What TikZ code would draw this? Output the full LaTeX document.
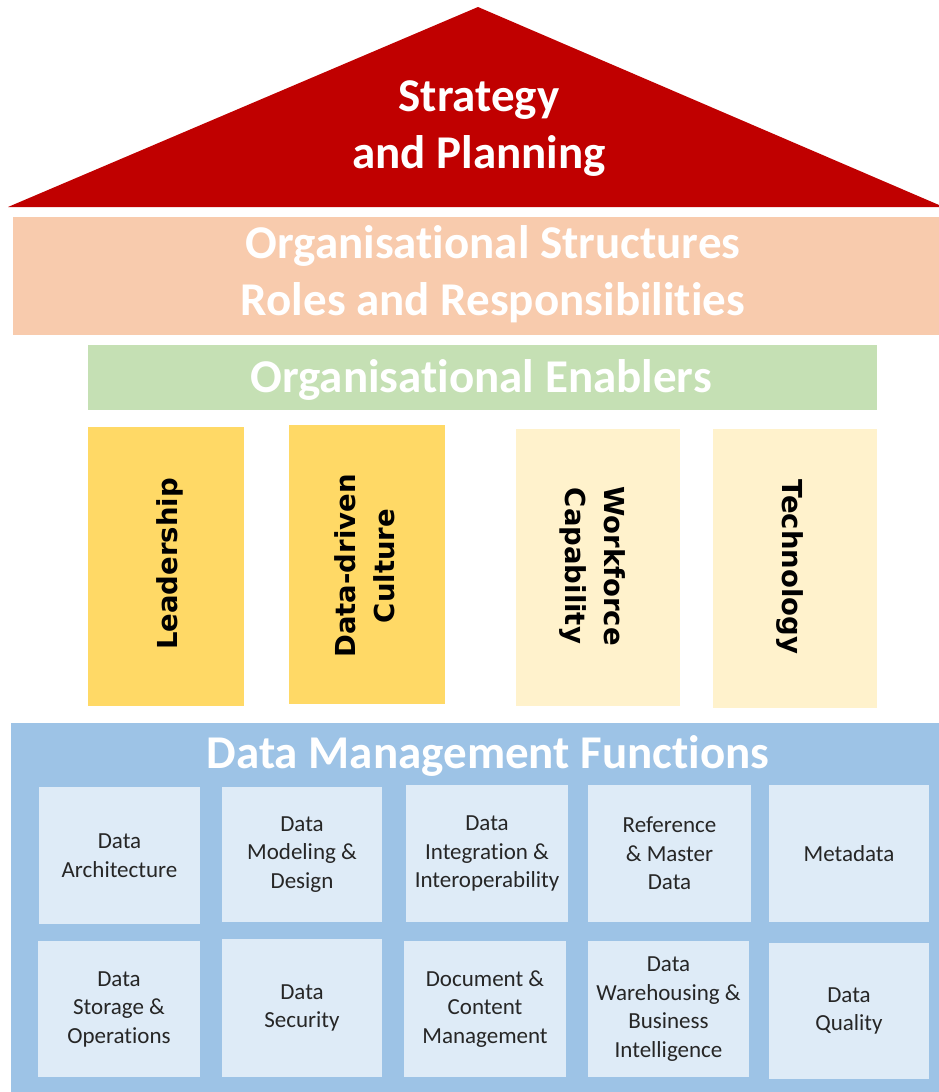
\documentclass[tikz,border=0pt]{standalone}
\usepackage{fontspec}
\setmainfont[Ligatures=NoCommon]{Carlito}
\newfontfamily\pillarfont{DejaVu Sans}
\definecolor{cRed}{HTML}{C00000}
\definecolor{cOrange}{HTML}{F8CBAD}
\definecolor{cGreen}{HTML}{C5E0B4}
\definecolor{cYellow}{HTML}{FFD966}
\definecolor{cPale}{HTML}{FFF2CC}
\definecolor{cBlue}{HTML}{9DC3E6}
\definecolor{cLight}{HTML}{DEEBF7}
\definecolor{cText}{HTML}{262626}
\begin{document}
\begin{tikzpicture}[x=1pt,y=-1pt,
  band/.style={inner sep=0pt, outer sep=0pt, align=center, text=white,
    font=\fontsize{47}{57}\selectfont\bfseries},
  pillar/.style={inner sep=0pt, outer sep=0pt},
  pillartext/.style={align=center, text=black, inner sep=0pt,
    font=\pillarfont\fontsize{27.5}{39}\selectfont\bfseries},
  func/.style={fill=cLight, inner sep=0pt, outer sep=0pt, align=center,
    text=cText, font=\fontsize{23}{28.5}\selectfont}
]
\useasboundingbox (0,0) rectangle (939,1092);
% roof
\fill[cRed] (478,7) -- (939,205) -- (939,207) -- (8,207) -- cycle;
\node[band] (roof) at (479,129) {Strategy\\and Planning};
% organisational structures
\node[band, fill=cOrange, minimum width=926, minimum height=118] (struct) at (476,276) {};
\node[band] (structtext) at (493,274) {Organisational Structures\\Roles and Responsibilities};
% enablers
\node[band, fill=cGreen, minimum width=789, minimum height=65] (enab) at (482.5,377.5) {};
\node[band] (enabtext) at (481,380) {Organisational Enablers};
% pillars
\node[pillar, fill=cYellow, minimum width=156, minimum height=279] (lead) at (166,566.5) {};
\node[pillar, fill=cYellow, minimum width=156, minimum height=279] (cult) at (367,564.5) {};
\node[pillar, fill=cPale, minimum width=164, minimum height=277] (work) at (598,567.5) {};
\node[pillar, fill=cPale, minimum width=164, minimum height=279] (tech) at (795,568.5) {};
\node[pillartext, rotate=90] (leadt) at (170,564) {Leadership};
\node[pillartext, rotate=90] (cultt) at (365,566) {Data-driven\\Culture};
\node[pillartext, rotate=-90] (workt) at (592,566) {Workforce\\Capability};
\node[pillartext, rotate=-90] (techt) at (790,567) {Technology};
% data management functions
\node[pillar, fill=cBlue, minimum width=928, minimum height=369] (dmf) at (475,907.5) {};
\node[band] (dmft) at (488,756) {Data Management Functions};
% row 1
\node[func, minimum width=161, minimum height=137] (f1) at (119.5,855.5) {Data\\Architecture};
\node[func, minimum width=160, minimum height=135] (f2) at (302,854.5) {Data\\Modeling \&\\Design};
\node[func, minimum width=162, minimum height=137] (f3) at (487,853.5) {Data\\Integration \&\\Interoperability};
\node[func, minimum width=163, minimum height=137] (f4) at (669.5,853.5) {Reference\\\& Master\\Data};
\node[func, minimum width=160, minimum height=137] (f5) at (849,853.5) {Metadata};
% row 2
\node[func, minimum width=162, minimum height=136] (f6) at (119,1009) {Data\\Storage \&\\Operations};
\node[func, minimum width=160, minimum height=138] (f7) at (302,1008) {Data\\Security};
\node[func, minimum width=162, minimum height=136] (f8) at (485,1009) {Document \&\\Content\\Management};
\node[func, minimum width=161, minimum height=136] (f9) at (668.5,1009) {Data\\Warehousing \&\\Business\\Intelligence};
\node[func, minimum width=160, minimum height=136] (f10) at (849,1011) {Data\\Quality};
\end{tikzpicture}
\end{document}
